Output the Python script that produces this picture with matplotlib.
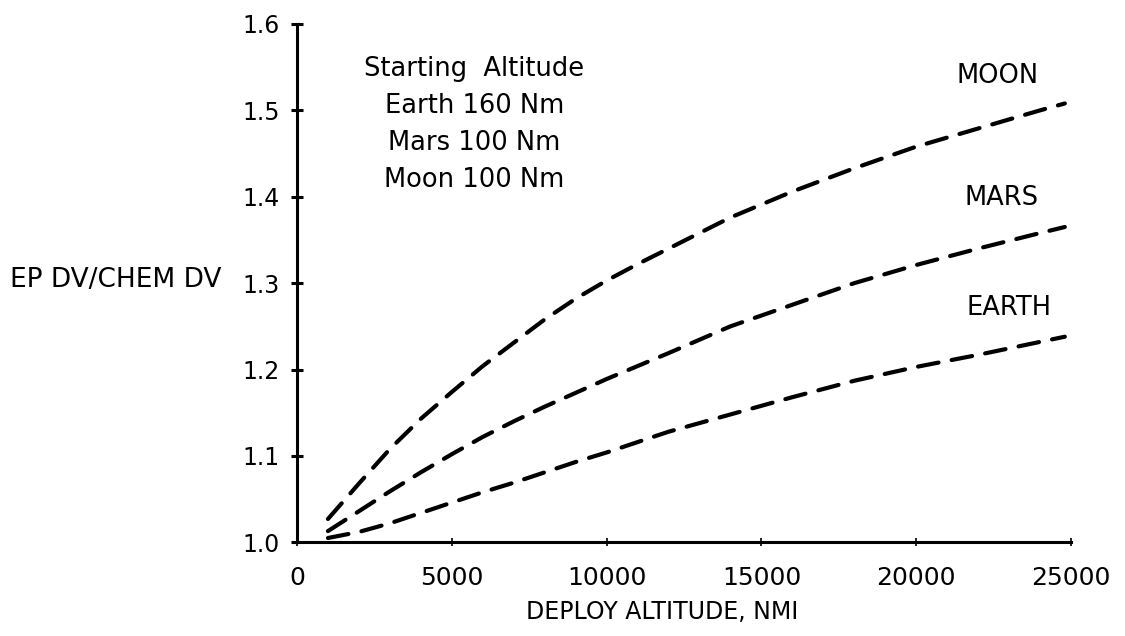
import matplotlib
matplotlib.use("Agg")
import matplotlib.pyplot as plt

# Deploy altitude (NMI) and EP DV / CHEM DV ratio
altitude = [1000, 2000, 3000, 4000, 5000, 6000, 7000, 8000, 9000, 10000,
            11000, 12000, 14000, 16000, 18000, 20000, 22000, 24000, 24800]
moon = [1.027, 1.068, 1.108, 1.143, 1.174, 1.204, 1.231, 1.258, 1.282, 1.303,
        1.322, 1.340, 1.376, 1.406, 1.433, 1.458, 1.479, 1.500, 1.508]
mars = [1.013, 1.036, 1.059, 1.081, 1.102, 1.122, 1.140, 1.157, 1.173, 1.189,
        1.204, 1.219, 1.250, 1.275, 1.300, 1.321, 1.340, 1.358, 1.365]
earth = [1.005, 1.012, 1.022, 1.034, 1.046, 1.058, 1.069, 1.081, 1.093, 1.104,
         1.116, 1.128, 1.148, 1.168, 1.187, 1.203, 1.217, 1.232, 1.238]

x_ticks = [0, 5000, 10000, 15000, 20000, 25000]
y_ticks = [1.0, 1.1, 1.2, 1.3, 1.4, 1.5, 1.6]
y_tick_labels = ['1.0', '1.1', '1.2', '1.3', '1.4', '1.5', '1.6']

series = [('MOON', moon, (22630, 1.540)),
          ('MARS', mars, (22740, 1.399)),
          ('EARTH', earth, (23000, 1.271))]
note_lines = ['Starting  Altitude', 'Earth 160 Nm', 'Mars 100 Nm', 'Moon 100 Nm']

plt.rcParams['font.family'] = ['DejaVu Sans']

fig = plt.figure(figsize=(11.25, 6.36), dpi=100)
ax = fig.add_axes([0.264, 0.1473, 0.688, 0.815])

for name, vals, pos in series:
    ax.plot(altitude, vals, color='black', linewidth=3.0,
            dashes=(5.0, 3.2), dash_capstyle='round')
    ax.text(pos[0], pos[1], name, ha='center', va='center', fontsize=18.5)

# starting altitude note
for i, line in enumerate(note_lines):
    ax.text(5725, 1.548 - i * 0.043, line, ha='center', va='center', fontsize=18.5)

ax.set_xlim(0, 25000)
ax.set_ylim(1.0, 1.6)
ax.set_xticks(x_ticks)
ax.set_yticks(y_ticks)
ax.set_yticklabels(y_tick_labels)
ax.tick_params(axis='y', direction='inout', length=9, width=2.2, labelsize=17, pad=8)
ax.tick_params(axis='x', direction='inout', length=6, width=1.2, labelsize=18, pad=14)

for side in ('top', 'right'):
    ax.spines[side].set_visible(False)
for side in ('left', 'bottom'):
    ax.spines[side].set_linewidth(2.2)

fig.text(0.009, 1 - 280 / 636, 'EP DV/CHEM DV', ha='left', va='center', fontsize=19)
fig.text(662 / 1125, 1 - 612 / 636, 'DEPLOY ALTITUDE, NMI', ha='center', va='center',
         fontsize=17)

fig.savefig('out.png', dpi=100)
